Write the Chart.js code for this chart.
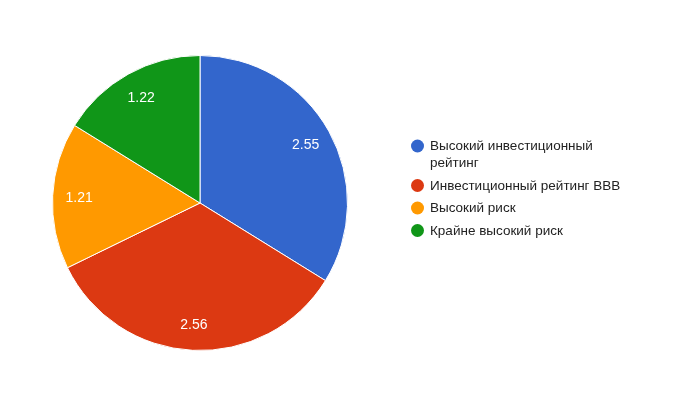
<!DOCTYPE html>
<html lang="ru">
<head>
<meta charset="UTF-8">
<title>Pie</title>
<script src="https://cdn.jsdelivr.net/npm/chart.js@4"></script>
<style>
  html, body {margin: 0; padding: 0; background: #fff;}
  #wrap {position: relative; width: 693px; height: 393px;}
</style>
</head>
<body>
<div id="wrap"><canvas id="chart"></canvas></div>
<script>
const categories = ['Высокий инвестиционный рейтинг', 'Инвестиционный рейтинг ВВВ', 'Высокий риск', 'Крайне высокий риск'];
const values = [2.55, 2.56, 1.21, 1.22];
const colors = ['#3366cc', '#dc3912', '#ff9900', '#109618'];

const FONT = '"Liberation Sans", Arial, sans-serif';

// labels inside slices
const sliceLabels = {
    id: 'sliceLabels',
    afterDatasetsDraw(chart) {
        const ctx = chart.ctx;
        const meta = chart.getDatasetMeta(0);
        ctx.save();
        ctx.fillStyle = '#fff';
        ctx.font = '14px ' + FONT;
        ctx.textAlign = 'center';
        ctx.textBaseline = 'middle';
        meta.data.forEach((arc, i) => {
            const mid = (arc.startAngle + arc.endAngle) / 2;
            const d = arc.outerRadius * 0.82;
            ctx.fillText(values[i].toFixed(2), arc.x + Math.cos(mid) * d, arc.y + Math.sin(mid) * d + 1);
        });
        ctx.restore();
    }
};

// legend on the right with wrapping
const sideLegend = {
    id: 'sideLegend',
    afterDraw(chart) {
        const ctx = chart.ctx;
        const labels = chart.data.labels;
        const bg = chart.data.datasets[0].backgroundColor;
        ctx.save();
        ctx.font = '13.5px ' + FONT;
        ctx.textBaseline = 'middle';
        let y = 146;
        labels.forEach((txt, i) => {
            const words = txt.split(' ');
            const lines = [];
            let cur = '';
            words.forEach(w => {
                const t = cur ? cur + ' ' + w : w;
                if (ctx.measureText(t).width > 205 && cur) { lines.push(cur); cur = w; }
                else cur = t;
            });
            lines.push(cur);
            ctx.fillStyle = bg[i];
            ctx.beginPath();
            ctx.arc(417.5, y, 6.5, 0, Math.PI * 2);
            ctx.fill();
            ctx.fillStyle = '#222';
            lines.forEach((l, k) => ctx.fillText(l, 430, y + 0.5 + k * 17));
            y += (lines.length - 1) * 17 + 22.5;
        });
        ctx.restore();
    }
};

new Chart('chart', {
    type: 'pie',
    data: {
        labels: categories,
        datasets: [{
            data: values,
            backgroundColor: colors,
            borderColor: '#fff',
            borderWidth: 1
        }]
    },
    options: {
        responsive: true,
        maintainAspectRatio: false,
        animation: false,
        layout: {padding: {left: 52, right: 345, top: 55, bottom: 42}},
        plugins: {
            legend: {display: false},
            tooltip: {enabled: false}
        }
    },
    plugins: [sliceLabels, sideLegend]
});
</script>
</body>
</html>
